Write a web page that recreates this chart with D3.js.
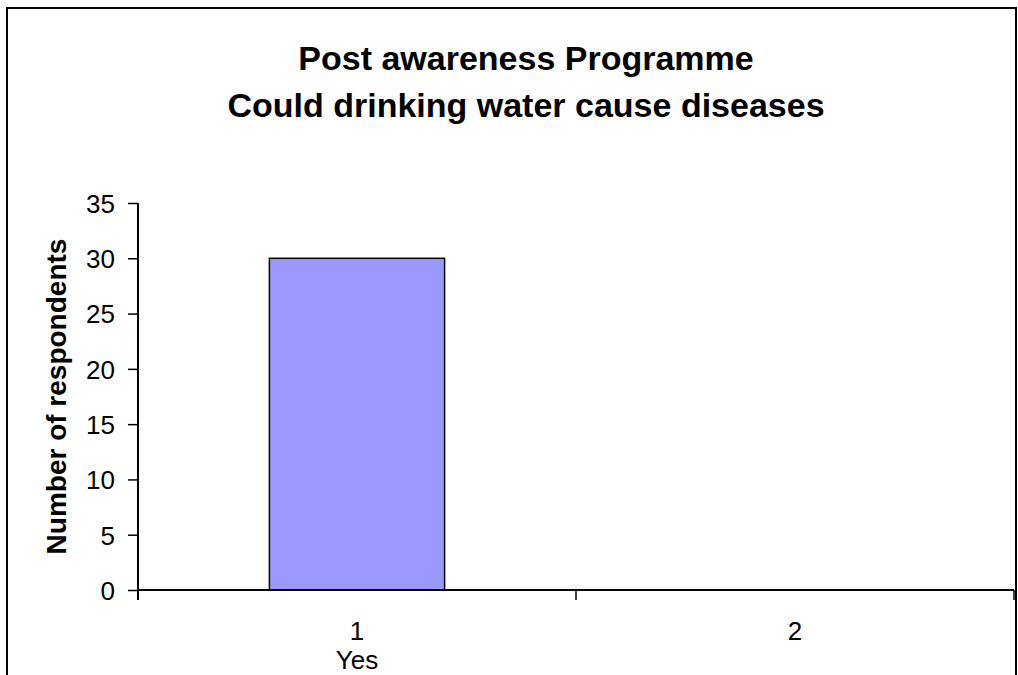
<!DOCTYPE html>
<html><head><meta charset="utf-8">
<script src="https://cdn.jsdelivr.net/npm/d3@7"></script>
<style>body{margin:0;background:#fff}svg{display:block}</style>
</head><body>
<svg id="c" width="1018" height="675"></svg>
<script>
const categories = ["1", "2"];
const subLabels = ["Yes", ""];
const values = [30, 0];
const yTicks = [0, 5, 10, 15, 20, 25, 30, 35];
const titleLines = ["Post awareness Programme", "Could drinking water cause diseases"];
const yTitle = "Number of respondents";

const svg = d3.select("#c");
const font = "'Liberation Sans', Arial, sans-serif";
svg.append("rect").attr("x", 7).attr("y", 8).attr("width", 1009).attr("height", 720)
  .attr("fill", "#fff").attr("stroke", "#000").attr("stroke-width", 2);

const L = 138, R = 1014, T = 203, B = 590;
const x = d3.scaleBand().domain(categories).range([L, R]).paddingInner(0).paddingOuter(0);
const y = d3.scaleLinear().domain([0, 35]).range([B, T]);

svg.selectAll("text.title").data(titleLines).enter().append("text")
  .attr("x", 526).attr("y", (d, i) => 70 + i * 47)
  .attr("text-anchor", "middle").attr("font-family", font).attr("font-weight", "bold")
  .attr("font-size", 34).text(d => d);

// bars
const bw = x.bandwidth() * 0.4;
svg.selectAll("rect.bar").data(values).enter().append("rect")
  .attr("x", (d, i) => x(categories[i]) + (x.bandwidth() - bw) / 2)
  .attr("y", d => y(d)).attr("width", bw).attr("height", d => B - y(d))
  .attr("fill", "#9999ff").attr("stroke", d => d > 0 ? "#000" : "none").attr("stroke-width", 1.5);

// y axis
const ya = svg.append("g").attr("transform", `translate(${L},0)`)
  .call(d3.axisLeft(y).tickValues(yTicks).tickSize(10).tickPadding(13));
ya.select(".domain").attr("stroke-width", 2).attr("d", `M0,${T}V${B + 10}`);
ya.selectAll(".tick line").attr("stroke-width", 1.5);
ya.selectAll("text").attr("font-family", font).attr("font-size", 26).attr("fill", "#000").attr("dy", "0.36em");

// x axis
const xa = svg.append("g").attr("transform", `translate(0,${B})`);
xa.append("line").attr("x1", L).attr("x2", R).attr("y1", 0).attr("y2", 0).attr("stroke", "#000").attr("stroke-width", 2);
const bounds = categories.map(c => x(c)).concat([R]);
xa.selectAll("line.t").data(bounds.slice(1)).enter().append("line")
  .attr("x1", d => d).attr("x2", d => d).attr("y1", 0).attr("y2", 10).attr("stroke", "#000").attr("stroke-width", 1.5);
xa.selectAll("text.c").data(categories).enter().append("text")
  .attr("x", d => x(d) + x.bandwidth() / 2).attr("y", 50).attr("text-anchor", "middle")
  .attr("font-family", font).attr("font-size", 26).text(d => d);
xa.selectAll("text.s").data(subLabels).enter().append("text")
  .attr("x", (d, i) => x(categories[i]) + x.bandwidth() / 2).attr("y", 79).attr("text-anchor", "middle")
  .attr("font-family", font).attr("font-size", 26).text(d => d);

svg.append("text").attr("transform", `translate(66,${(T + B) / 2}) rotate(-90)`)
  .attr("text-anchor", "middle").attr("font-family", font).attr("font-weight", "bold")
  .attr("font-size", 28).text(yTitle);
</script>
</body></html>
